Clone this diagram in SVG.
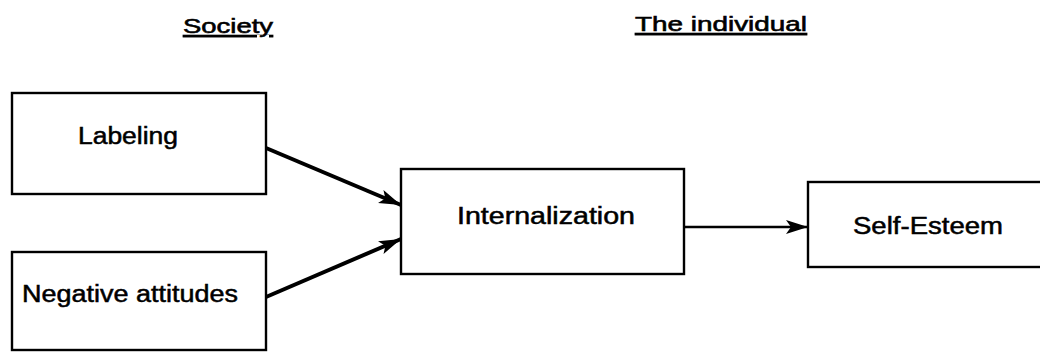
<svg xmlns="http://www.w3.org/2000/svg" width="1040" height="353" viewBox="0 0 1040 353">
<style>
.box{fill:#fff;stroke:#000;stroke-width:2.4}
.lbl{font-family:"Liberation Sans",Arial,sans-serif;font-size:23px;fill:#000;stroke:#000;stroke-width:0.5}
.hdr{font-family:"Liberation Sans",Arial,sans-serif;font-size:21px;fill:#000;stroke:#000;stroke-width:0.6;text-decoration:underline}
.thick{stroke:#000;stroke-width:4;fill:none}
.thin{stroke:#000;stroke-width:2.4;fill:none}
</style>
<defs>
<marker id="ah" markerUnits="userSpaceOnUse" markerWidth="24" markerHeight="16" refX="22" refY="8" orient="auto">
<path d="M0,1 L22,8 L0,15 L5,8 Z" fill="#000"/>
</marker>
</defs>
<rect width="1040" height="353" fill="#fff"/>
<g id="headers">
<text class="hdr" x="228" y="33" text-anchor="middle" textLength="90" lengthAdjust="spacingAndGlyphs">Society</text>
<text class="hdr" x="721" y="31" text-anchor="middle" textLength="172" lengthAdjust="spacingAndGlyphs">The individual</text>
</g>
<g id="connectors">
<line class="thick" x1="266" y1="148" x2="401" y2="205" marker-end="url(#ah)"/>
<line class="thick" x1="266" y1="297" x2="401" y2="239" marker-end="url(#ah)"/>
<line class="thin" x1="684" y1="227" x2="808" y2="227" marker-end="url(#ah)"/>
</g>
<g id="labeling">
<rect class="box" x="12" y="93" width="254" height="101"/>
<text class="lbl" x="128" y="144" text-anchor="middle" textLength="100" lengthAdjust="spacingAndGlyphs">Labeling</text>
</g>
<g id="negative">
<rect class="box" x="12" y="252" width="254" height="98"/>
<text class="lbl" x="130" y="302" text-anchor="middle" textLength="216" lengthAdjust="spacingAndGlyphs">Negative attitudes</text>
</g>
<g id="internalization">
<rect class="box" x="401" y="169" width="283" height="105"/>
<text class="lbl" x="546" y="224" text-anchor="middle" textLength="178" lengthAdjust="spacingAndGlyphs">Internalization</text>
</g>
<g id="selfesteem">
<rect class="box" x="808" y="182" width="240" height="85"/>
<text class="lbl" x="928" y="234" text-anchor="middle" textLength="150" lengthAdjust="spacingAndGlyphs">Self-Esteem</text>
</g>
</svg>
